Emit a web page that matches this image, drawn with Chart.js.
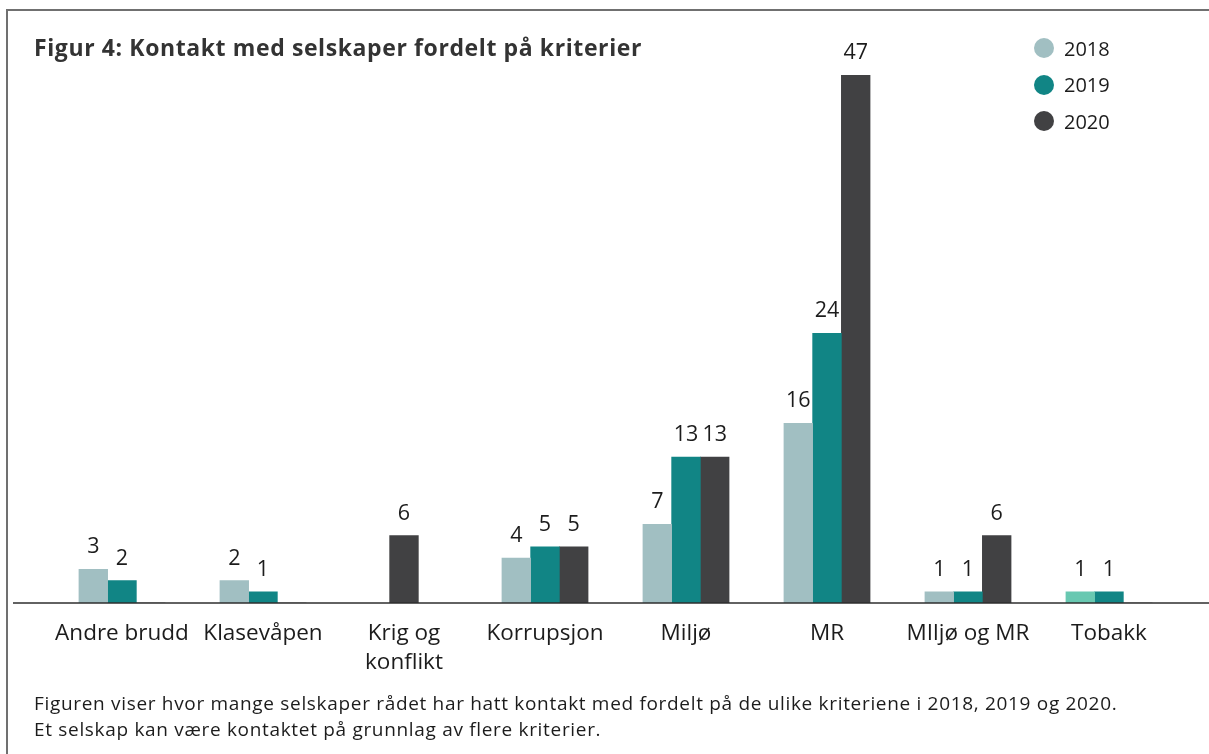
<!DOCTYPE html>
<html lang="no">
<head>
<meta charset="utf-8">
<script src="https://cdn.jsdelivr.net/npm/chart.js@4.4.1/dist/chart.umd.min.js"></script>
<style>
  html, body { margin: 0; padding: 0; background: #fff; }
  #wrap { position: relative; width: 1209px; height: 754px; overflow: hidden; font-family: 'Open Sans', sans-serif; color: #1c1c1c; }
  #frame { position: absolute; left: 6px; top: 9px; right: 0; bottom: 0; border-top: 2px solid #707070; border-left: 2px solid #707070; }
  #title { position: absolute; left: 34px; top: 31px; font-weight: 700; font-size: 23px; letter-spacing: 0.6px; color: #333; white-space: nowrap; }
  #legend { position: absolute; left: 1034px; top: 30px; }
  .item { display: flex; align-items: center; height: 36.5px; font-size: 20px; }
  .dot { width: 20px; height: 20px; border-radius: 50%; margin-right: 10px; }
  #caption { position: absolute; left: 34px; top: 690px; font-size: 19px; letter-spacing: 0.68px; line-height: 26px; white-space: nowrap; }
  canvas { position: absolute; left: 0; top: 0; }
</style>
</head>
<body>
<div id="wrap">
  <div id="frame"></div>
  <canvas id="chart" width="1209" height="754"></canvas>
  <div id="title">Figur 4: Kontakt med selskaper fordelt på kriterier</div>
  <div id="legend"></div>
  <div id="caption">Figuren viser hvor mange selskaper rådet har hatt kontakt med fordelt på de ulike kriteriene i 2018, 2019 og 2020.<br>Et selskap kan være kontaktet på grunnlag av flere kriterier.</div>
</div>
<script>
const categories = ['Andre brudd', 'Klasevåpen', ['Krig og', 'konflikt'], 'Korrupsjon', 'Miljø', 'MR', 'MIljø og MR', 'Tobakk'];
const years = ['2018', '2019', '2020'];
const v2018 = [3, 2, null, 4, 7, 16, 1, 1];
const v2019 = [2, 1, null, 5, 13, 24, 1, 1];
const v2020 = [0, 0, 6, 5, 13, 47, 6, 0];
const colors = ['#a1bfc2', '#118585', '#414143'];
const tobakkColor = '#68c8b1';

const FONT = "'Open Sans', sans-serif";

// verdilapper over søylene + grunnlinje
const valueLabels = {
    id: 'valueLabels',
    afterDatasetsDraw(chart) {
        const ctx = chart.ctx;
        ctx.save();
        ctx.font = `21.5px ${FONT}`;
        ctx.fillStyle = '#1c1c1c';
        ctx.textAlign = 'center';
        ctx.textBaseline = 'alphabetic';
        chart.data.datasets.forEach((ds, i) => {
            chart.getDatasetMeta(i).data.forEach((bar, j) => {
                const v = ds.data[j];
                if (v == null || v === 0) return;
                ctx.fillText(String(v), bar.x, bar.y - 16);
            });
        });
        const y = chart.scales.y.getPixelForValue(0);
        ctx.strokeStyle = '#2e2e2e';
        ctx.lineWidth = 1.6;
        ctx.beginPath();
        ctx.moveTo(13, y);
        ctx.lineTo(1209, y);
        ctx.stroke();
        ctx.restore();
    }
};

const series = [v2018, v2019, v2020];

const chart = new Chart(document.getElementById('chart'), {
    type: 'bar',
    data: {
        labels: categories,
        datasets: series.map((data, i) => ({
            label: years[i],
            data,
            skipNull: true,
            backgroundColor: i === 0
                ? categories.map(c => c === 'Tobakk' ? tobakkColor : colors[i])
                : colors[i],
            borderWidth: 0,
            barThickness: 28.7
        }))
    },
    options: {
        responsive: false,
        animation: false,
        layout: { padding: { left: 51.5, right: 29.5, top: 75, bottom: 0 } },
        plugins: { legend: { display: false }, tooltip: { enabled: false } },
        scales: {
            x: {
                grid: { display: false, drawTicks: false },
                border: { display: false },
                ticks: {
                    font: { family: FONT, size: 22.5, lineHeight: 1.28 },
                    color: '#1c1c1c',
                    padding: 16,
                    maxRotation: 0,
                    autoSkip: false
                },
                afterFit: s => { s.height = 151; }
            },
            y: { display: false, min: 0, max: 47 }
        }
    },
    plugins: [valueLabels]
});

// forklaring bygd fra datasettene
const legend = document.getElementById('legend');
chart.data.datasets.forEach((ds, i) => {
    const item = document.createElement('div');
    item.className = 'item';
    item.innerHTML = `<span class="dot" style="background:${colors[i]}"></span><span>${ds.label}</span>`;
    legend.appendChild(item);
});
</script>
</body>
</html>
